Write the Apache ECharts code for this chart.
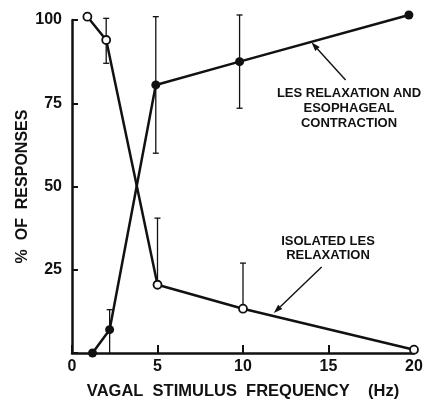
<!DOCTYPE html>
<html><head><meta charset="utf-8">
<script src="https://cdn.jsdelivr.net/npm/echarts@6/dist/echarts.min.js"></script>
<style>html,body{margin:0;padding:0;background:#fff;}#c{width:425px;height:405px;}</style>
</head><body><div id="c"></div>
<script>
// Data
const xTicks = [0, 5, 10, 15, 20];
const yTicks = [25, 50, 75, 100];
const contractionX = [1.2, 2.2, 4.9, 9.8, 19.7];
const contractionY = [0, 7, 80.5, 87.5, 101.5];
const contractionErr = [[2.2, 0, 13], [4.9, 60, 101], [9.8, 73.5, 101.5]];
const isolatedX = [0.9, 2.0, 5.0, 10.0, 20.0];
const isolatedY = [101, 94, 20.5, 13.3, 1];
const isolatedErr = [[2.0, 87, 100.5], [5.0, 20.5, 40.5], [10.0, 13.3, 27]];
const labelContraction = ['LES RELAXATION AND', 'ESOPHAGEAL', 'CONTRACTION'];
const labelIsolated = ['ISOLATED LES', 'RELAXATION'];
const arrowContraction = [[16.0, 82.0], [14.0, 93.3]];
const arrowIsolated = [[14.6, 25.8], [11.8, 12.0]];

const FONT = '"Liberation Sans", Arial, sans-serif';
const INK = '#111';

function pairs(xs, ys) { return xs.map((x, i) => [x, ys[i]]); }

function errSeries(err, xs, ys) {
  return {
    type: 'custom', clip: false, silent: true, z: 3,
    data: err,
    renderItem: function (params, api) {
      const x = api.value(0), lo = api.value(1), hi = api.value(2);
      const pLo = api.coord([x, lo]), pHi = api.coord([x, hi]);
      const idx = xs.indexOf(x);
      const v = idx >= 0 ? ys[idx] : lo;
      const w = 3;
      const st = { stroke: INK, lineWidth: 1.3 };
      const children = [
        { type: 'line', shape: { x1: pLo[0], y1: pLo[1], x2: pHi[0], y2: pHi[1] }, style: st },
        { type: 'line', shape: { x1: pHi[0] - w, y1: pHi[1], x2: pHi[0] + w, y2: pHi[1] }, style: st }
      ];
      if (lo < v - 0.5 && lo > 0) {
        children.push({ type: 'line', shape: { x1: pLo[0] - w, y1: pLo[1], x2: pLo[0] + w, y2: pLo[1] }, style: st });
      }
      return { type: 'group', children: children };
    }
  };
}

const chart = echarts.init(document.getElementById('c'), null, { renderer: 'canvas' });
chart.setOption({
  animation: false,
  backgroundColor: '#fff',
  grid: { left: 72, right: 11, top: 20, bottom: 52, outerBoundsMode: 'none', containLabel: false },
  xAxis: {
    type: 'value', min: 0, max: 20, interval: 5,
    axisLine: { onZero: false, lineStyle: { color: INK, width: 2.5 } },
    axisTick: { inside: true, length: 8, lineStyle: { color: INK, width: 2 } },
    splitLine: { show: false },
    axisLabel: { color: INK, fontFamily: FONT, fontWeight: 'bold', fontSize: 16, margin: 6,
      formatter: v => xTicks.indexOf(v) >= 0 ? String(v) : '' },
    name: 'VAGAL  STIMULUS  FREQUENCY    (Hz)', nameLocation: 'middle', nameGap: 30, nameMoveOverlap: false,
    nameTextStyle: { color: INK, fontFamily: FONT, fontWeight: 'bold', fontSize: 16.5 }
  },
  yAxis: {
    type: 'value', min: 0, max: 100, interval: 25,
    axisLine: { show: true, lineStyle: { color: INK, width: 2.5 } },
    axisTick: { show: true, inside: true, length: 6, lineStyle: { color: INK, width: 2 } },
    splitLine: { show: false },
    axisLabel: { color: INK, fontFamily: FONT, fontWeight: 'bold', fontSize: 16, margin: 10,
      formatter: v => yTicks.indexOf(v) >= 0 ? String(v) : '' },
    name: '%  OF  RESPONSES', nameLocation: 'middle', nameGap: 41, nameRotate: 90, nameMoveOverlap: false,
    nameTextStyle: { color: INK, fontFamily: FONT, fontWeight: 'bold', fontSize: 16 }
  },
  series: [
    {
      type: 'line', clip: false, z: 4,
      data: pairs(contractionX, contractionY),
      symbol: 'circle', symbolSize: 9,
      itemStyle: { color: INK, borderColor: INK, borderWidth: 0 },
      lineStyle: { color: INK, width: 2.5 }
    },
    {
      type: 'line', clip: false, z: 4,
      data: pairs(isolatedX, isolatedY),
      symbol: 'circle', symbolSize: 8,
      itemStyle: { color: '#fff', borderColor: INK, borderWidth: 1.8 },
      lineStyle: { color: INK, width: 2.5 }
    },
    errSeries(contractionErr, contractionX, contractionY),
    errSeries(isolatedErr, isolatedX, isolatedY)
  ]
});

function arrowGraphic(a) {
  const p0 = chart.convertToPixel({ gridIndex: 0 }, a[0]);
  const p1 = chart.convertToPixel({ gridIndex: 0 }, a[1]);
  const dx = p1[0] - p0[0], dy = p1[1] - p0[1];
  const L = Math.sqrt(dx * dx + dy * dy);
  const ux = dx / L, uy = dy / L;
  const hl = 9, hw = 3;
  const bx = p1[0] - ux * hl, by = p1[1] - uy * hl;
  return [
    { type: 'line', z: 10, shape: { x1: p0[0], y1: p0[1], x2: bx, y2: by }, style: { stroke: INK, lineWidth: 1.4 } },
    { type: 'polygon', z: 10, shape: { points: [p1, [bx - uy * hw, by + ux * hw], [bx + uy * hw, by - ux * hw]] }, style: { fill: INK } }
  ];
}

chart.setOption({
  graphic: [].concat(
    arrowGraphic(arrowContraction),
    arrowGraphic(arrowIsolated),
    [
      { type: 'text', z: 10, x: 349, y: 86, style: { text: labelContraction.join('\n'), fill: INK,
        font: 'bold 13px ' + FONT, align: 'center', lineHeight: 15 } },
      { type: 'text', z: 10, x: 328, y: 234, style: { text: labelIsolated.join('\n'), fill: INK,
        font: 'bold 13px ' + FONT, align: 'center', lineHeight: 14 } }
    ]
  )
});
</script></body></html>
